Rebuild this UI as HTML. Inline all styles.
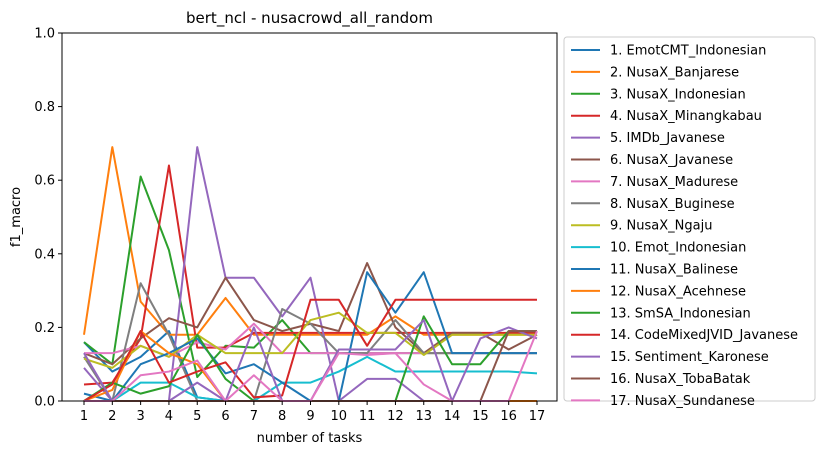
<!DOCTYPE html>
<html><head><meta charset="utf-8"><style>
body{margin:0;background:#fff;font-family:"Liberation Sans","DejaVu Sans",sans-serif;}
svg text{font-family:"DejaVu Sans","Liberation Sans",sans-serif;}
</style></head><body>
<svg id="chart" width="825" height="455" xmlns="http://www.w3.org/2000/svg"></svg>
<script>
const categories=[1,2,3,4,5,6,7,8,9,10,11,12,13,14,15,16,17];
const yTicks=[0,0.2,0.4,0.6,0.8,1.0];
const yTickLabels=["0.0","0.2","0.4","0.6","0.8","1.0"];
const seriesNames=["1. EmotCMT_Indonesian","2. NusaX_Banjarese","3. NusaX_Indonesian","4. NusaX_Minangkabau","5. IMDb_Javanese","6. NusaX_Javanese","7. NusaX_Madurese","8. NusaX_Buginese","9. NusaX_Ngaju","10. Emot_Indonesian","11. NusaX_Balinese","12. NusaX_Acehnese","13. SmSA_Indonesian","14. CodeMixedJVID_Javanese","15. Sentiment_Karonese","16. NusaX_TobaBatak","17. NusaX_Sundanese"];
const s1=[0.16,0.08,0.12,0.19,0.01,0,0,0,0,0,0,0,0,0,0,0,0];
const s2=[0.18,0.69,0.27,0.18,0.18,0.28,0.18,0.18,0.18,0.18,0.18,0.23,0.18,0.18,0.18,0.18,0.18];
const s3=[0.16,0.10,0.61,0.41,0.065,0.15,0.145,0.22,0.13,0.13,0.13,0.13,0.13,0.13,0.13,0.13,0.13];
const s4=[0.045,0.05,0.17,0.64,0.145,0.145,0.185,0.185,0.185,0.185,0.185,0.185,0.185,0.185,0.185,0.185,0.185];
const s5=[0.09,0,0,0,0.69,0.335,0.335,0.23,0.335,0,0.06,0.06,0,0,0,0,0];
const s6=[0.13,0.10,0.17,0.225,0.20,0.335,0.22,0.19,0.21,0.19,0.375,0.20,0.13,0.185,0.185,0.14,0.18];
const s7=[0.13,0.13,0.15,0.12,0.16,0.14,0.21,0.13,0.13,0.13,0.13,0.13,0.13,0.13,0.13,0.13,0.13];
const s8=[0.12,0,0.32,0.18,0,0,0,0.25,0.21,0.13,0.13,0.22,0.13,0.13,0.13,0.13,0.13];
const s9=[0.115,0.09,0.15,0.12,0.18,0.13,0.13,0.13,0.22,0.24,0.185,0.185,0.125,0.18,0.18,0.18,0.18];
const s10=[0,0,0.05,0.05,0.01,0,0,0.05,0.05,0.08,0.12,0.08,0.08,0.08,0.08,0.08,0.075];
const s11=[0.02,0,0.10,0.13,0.17,0.075,0.10,0.05,0,0,0.35,0.24,0.35,0.13,0.13,0.13,0.13];
const s12=[0,0.03,0.19,0.13,0.10,0,0,0,0,0,0,0,0,0,0,0,0];
const s13=[0,0.05,0.02,0.04,0.18,0.06,0,0,0,0,0,0,0.23,0.10,0.10,0.19,0.19];
const s14=[0,0.045,0.19,0.05,0.08,0.105,0.01,0.015,0.275,0.275,0.15,0.275,0.275,0.275,0.275,0.275,0.275];
const s15=[0.13,0,0,0,0.05,0,0.20,0,0,0.14,0.14,0.14,0.22,0,0.17,0.20,0.17];
const s16=[0,0,0,0,0,0,0,0,0,0,0,0,0,0,0,0.19,0.19];
const s17=[0,0,0.07,0.08,0.11,0,0.07,0,0,0.13,0.125,0.13,0.045,0,0,0,0.19];
const allSeries=[s1,s2,s3,s4,s5,s6,s7,s8,s9,s10,s11,s12,s13,s14,s15,s16,s17];
const colors=["#1f77b4","#ff7f0e","#2ca02c","#d62728","#9467bd","#8c564b","#e377c2","#7f7f7f","#bcbd22","#17becf"];
const L=62,R=557,T=33,B=401;
const xS=v=>84+(v-1)*(537-84)/16;
const yS=v=>B-v*(B-T);
const NS="http://www.w3.org/2000/svg";
const svg=document.getElementById('chart');
function mk(tag,attrs,parent){const e=document.createElementNS(NS,tag);for(const k in attrs)e.setAttribute(k,attrs[k]);(parent||svg).appendChild(e);return e;}
const title=mk('text',{x:(L+R)/2,y:23,'text-anchor':'middle','font-size':15,fill:'#000'});


title.textContent="bert_ncl - nusacrowd_all_random";
const gLines=mk('g',{});


allSeries.forEach((s,i)=>{
  const pts=s.map((v,j)=>xS(categories[j])+','+yS(v)).join(' ');
  const pl=mk('polyline',{points:pts,fill:'none',stroke:colors[i%10],'stroke-width':2,'stroke-linejoin':'round'},gLines);
  
  
});
const frame=mk('rect',{x:L,y:T,width:R-L,height:B-T,fill:'none',stroke:'#000','stroke-width':1});


categories.forEach(c=>{
  mk('line',{x1:xS(c),x2:xS(c),y1:B,y2:B+4,stroke:'#000','stroke-width':1});
  const t=mk('text',{x:xS(c),y:B+19,'text-anchor':'middle','font-size':13});
  
  
  t.textContent=c;
});
yTicks.forEach((v,i)=>{
  mk('line',{x1:L-4,x2:L,y1:yS(v),y2:yS(v),stroke:'#000','stroke-width':1});
  const t=mk('text',{x:L-7,y:yS(v)+4.5,'text-anchor':'end','font-size':13});
  
  
  t.textContent=yTickLabels[i];
});
const xl=mk('text',{x:(L+R)/2,y:442,'text-anchor':'middle','font-size':13});


xl.textContent="number of tasks";
const yl=mk('text',{x:20,y:(T+B)/2,'text-anchor':'middle','font-size':13,transform:'rotate(-90 20 '+((T+B)/2)+')'});


yl.textContent="f1_macro";
const lg=mk('g',{});


mk('rect',{x:564,y:37,width:251,height:364,rx:3,fill:'#fff',stroke:'#ccc','stroke-width':1},lg);
seriesNames.forEach((n,i)=>{
  const y=50+i*21.9;
  const e=mk('g',{},lg);
  
  
  mk('line',{x1:571,x2:600,y1:y,y2:y,stroke:colors[i%10],'stroke-width':2},e);
  const t=mk('text',{x:610,y:y+4.5,'font-size':13},e);
  t.textContent=n;
});
</script>
</body></html>
